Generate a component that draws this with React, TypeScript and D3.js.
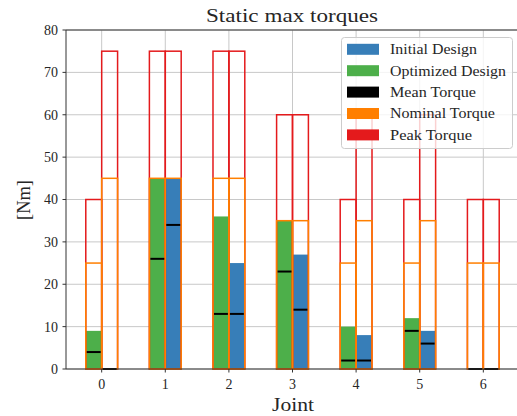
import React from "react";
import * as d3 from "d3";

const joints = [0, 1, 2, 3, 4, 5, 6];
const initialDesign = [0, 45, 25, 27, 8, 9, 0];
const optimizedDesign = [9, 45, 36, 35, 10, 12, 0];
const meanInitial = [0, 34, 13, 14, 2, 6, 0];
const meanOptimized = [4, 26, 13, 23, 2, 9, 0];
const nominalInitial = [45, 45, 45, 35, 35, 35, 25];
const nominalOptimized = [25, 45, 45, 35, 25, 25, 25];
const peakInitial = [75, 75, 75, 60, 60, 60, 40];
const peakOptimized = [40, 75, 75, 60, 40, 40, 40];
const yTicks = [0, 10, 20, 30, 40, 50, 60, 70, 80];
const legendLabels = ["Initial Design", "Optimized Design", "Mean Torque", "Nominal Torque", "Peak Torque"];
const legendColors = ["#377eb8", "#4daf4a", "#000000", "#ff7f00", "#e41a1c"];
const legendWidths = [87, 116, 86, 105, 82];

const W = 517;
const H = 416;
const FONT = "'Liberation Serif', 'DejaVu Serif', serif";

export default function App() {
  const x = d3.scaleLinear().domain([-0.561, 6.561]).range([66, 519]);
  const y = d3.scaleLinear().domain([0, 80]).range([369, 30]);
  const bw = 0.25;
  const left = (j: number) => x(j - bw);
  const mid = (j: number) => x(j);
  const right = (j: number) => x(j + bw);
  const grid = "#c8c8c8";

  return (
    <svg width={W} height={H} style={{ position: "absolute", left: 0, top: 0, background: "#fff" }} fontFamily={FONT}>
      {/* grid */}
      {yTicks.map((t) => (
        <line key={"gy" + t} x1={66} x2={W} y1={y(t)} y2={y(t)} stroke={grid} strokeWidth={1} />
      ))}
      {joints.map((j) => (
        <line key={"gx" + j} x1={x(j)} x2={x(j)} y1={30} y2={369} stroke={grid} strokeWidth={1} />
      ))}
      {/* fills */}
      {joints.map((j, i) => (
        <g key={"f" + j}>
          <rect x={left(j)} width={mid(j) - left(j)} y={y(optimizedDesign[i])} height={y(0) - y(optimizedDesign[i])} fill="#4daf4a" />
          <rect x={mid(j)} width={right(j) - mid(j)} y={y(initialDesign[i])} height={y(0) - y(initialDesign[i])} fill="#377eb8" />
        </g>
      ))}
      {/* peak outlines */}
      {joints.map((j, i) => (
        <g key={"p" + j} fill="none" stroke="#e41a1c" strokeWidth={1.5}>
          <rect x={left(j)} width={mid(j) - left(j)} y={y(peakOptimized[i])} height={y(0) - y(peakOptimized[i])} />
          <rect x={mid(j)} width={right(j) - mid(j)} y={y(peakInitial[i])} height={y(0) - y(peakInitial[i])} />
        </g>
      ))}
      {/* nominal outlines */}
      {joints.map((j, i) => (
        <g key={"n" + j} fill="none" stroke="#ff7f00" strokeWidth={1.5}>
          <rect x={left(j)} width={mid(j) - left(j)} y={y(nominalOptimized[i])} height={y(0) - y(nominalOptimized[i])} />
          <rect x={mid(j)} width={right(j) - mid(j)} y={y(nominalInitial[i])} height={y(0) - y(nominalInitial[i])} />
        </g>
      ))}
      {/* means */}
      {joints.map((j, i) => (
        <g key={"m" + j} stroke="#000" strokeWidth={2}>
          <line x1={left(j) + 1} x2={mid(j) - 1} y1={y(meanOptimized[i])} y2={y(meanOptimized[i])} />
          <line x1={mid(j) + 1} x2={right(j) - 1} y1={y(meanInitial[i])} y2={y(meanInitial[i])} />
        </g>
      ))}
      {/* spines */}
      <line x1={66} x2={66} y1={30} y2={369} stroke="#333" strokeWidth={1} />
      <line x1={66} x2={W} y1={369} y2={369} stroke="#333" strokeWidth={1} />
      <line x1={66} x2={W} y1={30} y2={30} stroke="#333" strokeWidth={1} />
      {/* y ticks */}
      {yTicks.map((t) => (
        <g key={"yt" + t}>
          <line x1={62.5} x2={66} y1={y(t)} y2={y(t)} stroke="#333" strokeWidth={1} />
          <text x={58} y={y(t)} dy="0.35em" textAnchor="end" fontSize={14} fill="#262626">{t}</text>
        </g>
      ))}
      {/* x ticks */}
      {joints.map((j) => (
        <g key={"xt" + j}>
          <line x1={x(j)} x2={x(j)} y1={369} y2={372.5} stroke="#333" strokeWidth={1} />
          <text x={x(j)} y={389} textAnchor="middle" fontSize={14} fill="#262626">{j}</text>
        </g>
      ))}
      {/* labels */}
      <text x={206} y={22} fontSize={19} fill="#262626" textLength={172} lengthAdjust="spacingAndGlyphs">Static max torques</text>
      <text x={272} y={411} fontSize={19} fill="#262626" textLength={42} lengthAdjust="spacingAndGlyphs">Joint</text>
      <text transform={`translate(30,220) rotate(-90)`} fontSize={19} fill="#262626" textLength={40} lengthAdjust="spacingAndGlyphs">[Nm]</text>
      {/* legend */}
      <rect x={341.5} y={37.5} width={171} height={111} rx={3} fill="#fff" fillOpacity={0.8} stroke="#ccc" strokeWidth={1} />
      {legendLabels.map((lab, i) => {
        const cy = 49.3 + i * 21.4;
        return (
          <g key={lab}>
            <rect x={347} y={cy - 5.5} width={32} height={11} fill={legendColors[i]} />
            <text x={390} y={cy} dy="0.35em" fontSize={14} fill="#262626" textLength={legendWidths[i]} lengthAdjust="spacingAndGlyphs">{lab}</text>
          </g>
        );
      })}
    </svg>
  );
}
